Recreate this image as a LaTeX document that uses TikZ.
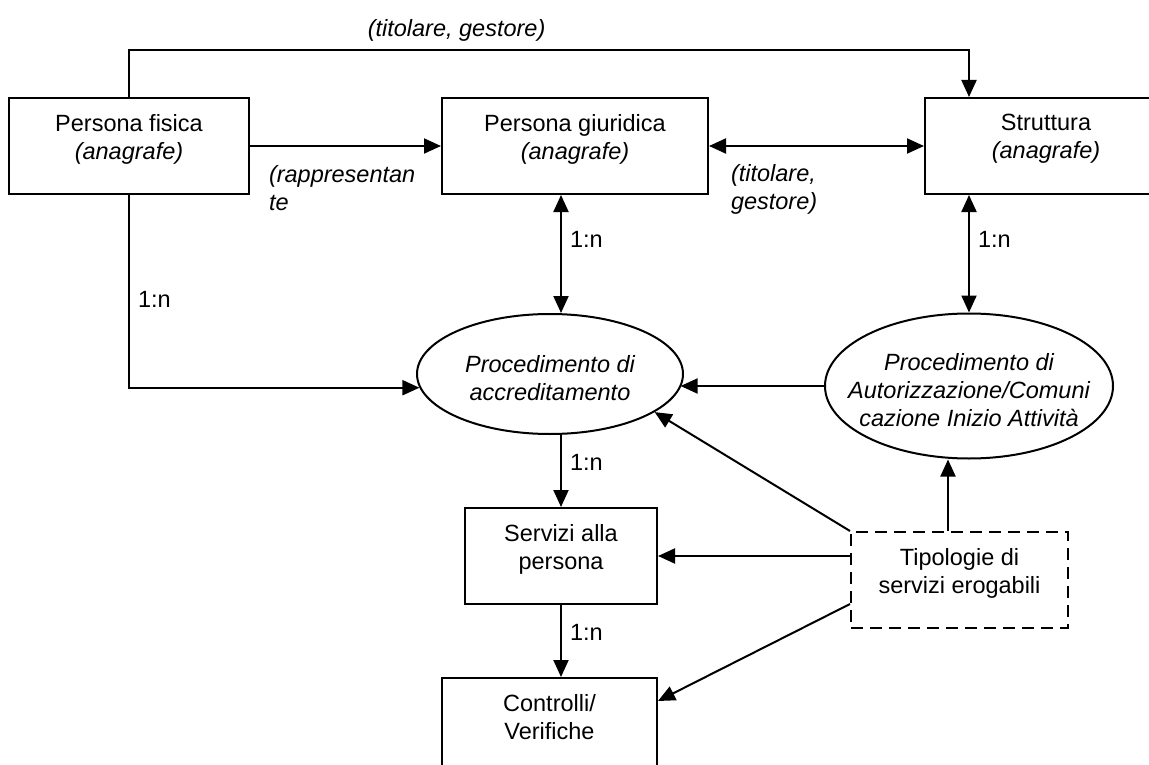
\documentclass[tikz,border=0pt]{standalone}
\usepackage{fontspec}
\setmainfont{Liberation Sans}
\usepackage{tikz}
\usetikzlibrary{arrows.meta,positioning,shapes.geometric}
\newcommand{\diagfont}{\fontsize{23.5}{28}\selectfont}
\newcommand{\tail}{\rule[-19pt]{0pt}{19pt}}
\newcommand{\lead}{\rule{0pt}{26pt}}
\newcommand{\newBox}[4]{\node[#3](#1)[#4]{#2};}
\newcommand{\newLink}[4]{\path[->] (#1) edge [#4] node[pos=.38] {#3} (#2); }

\begin{document}
\begin{tikzpicture}[
    % Default arrow tip
    ->,>={Triangle[length=17pt,width=15pt]},auto,
    % one unit = one pixel of the scan, y going down
    x=1pt,y=-1pt,
    % Edge stroke thickness
    line width=2pt,
    every node/.style={font=\diagfont,inner sep=8pt},
    box/.style={draw,rectangle,minimum height=96pt,align=center,execute at end node={\tail}},
    dashedbox/.style={dash pattern=on 12pt off 7pt},
    proc/.style={draw,ellipse,align=center,inner sep=0pt,font=\diagfont\itshape}
    ]

    \clip (0,0) rectangle (1149,765);

    \newBox{fisica}{Persona fisica\\\textit{(anagrafe)}}{box,minimum width=240pt}{at={(129,146)}}
    \newBox{giuridica}{Persona giuridica\\\textit{(anagrafe)}}{box,minimum width=266pt}{right=191pt of fisica}
    \newBox{struttura}{Struttura\\\textit{(anagrafe)}}{box,minimum width=242pt}{right=215pt of giuridica}
    \newBox{accred}{\lead Procedimento di\\accreditamento}{proc,minimum width=266pt,minimum height=120pt}{at={(550,374)}}
    \newBox{autor}{\lead Procedimento di\\Autorizzazione/Comuni\\cazione Inizio Attività}{proc,minimum width=288pt,minimum height=145pt,inner xsep=-30pt}{at={(969,386)}}
    \newBox{servizi}{Servizi alla\\persona}{box,minimum width=192pt}{below=72pt of accred,xshift=11pt}
    \newBox{controlli}{Controlli/\\Verifiche}{box,minimum width=215pt}{below=72pt of servizi,xshift=-11.5pt}
    \newBox{tipologie}{Tipologie di\\servizi erogabili}{box,dashedbox,minimum width=217pt}{right=192pt of servizi,yshift=-24pt}

    \coordinate (toprow) at (0,50);
    \coordinate (tup) at ([xshift=-11.5pt]tipologie.north);

    \draw (fisica.north) -- (fisica.north |- toprow)
        -- node[above,pos=.39]{\textit{(titolare, gestore)}} (autor.north |- toprow)
        -- (autor.north |- struttura.north);
    \draw (fisica.east) -- node[pos=0,anchor=north west,xshift=10pt,yshift=-10pt,align=left]
        {\textit{(rappresentan}\\\textit{te}} (giuridica.west);
    \draw[<->] (giuridica.east) -- node[pos=0,anchor=north west,xshift=13pt,yshift=-9pt,align=left]
        {\textit{(titolare,}\\\textit{gestore)}} (struttura.west);

    \newLink{giuridica.south -| servizi.north}{servizi.north |- accred.north}{1:n}{<->}
    \newLink{autor.north |- struttura.south}{autor.north}{1:n}{<->}
    \newLink{servizi.north |- accred.south}{servizi.north}{1:n}{}
    \newLink{servizi.south}{servizi.south |- controlli.north}{1:n}{}

    \draw (fisica.south) |- node[right,pos=.27]{1:n} (accred.186);
    \draw (autor.west) -- (accred.354 |- autor.west);
    \draw (tup) -- (tup |- autor.south);
    \draw (tipologie.north west) -- (accred.340);
    \draw (tipologie.west |- servizi.east) -- (servizi.east);
    \draw ([yshift=-24pt]tipologie.west) -- ([yshift=25pt]controlli.east);
  \end{tikzpicture}
\end{document}
